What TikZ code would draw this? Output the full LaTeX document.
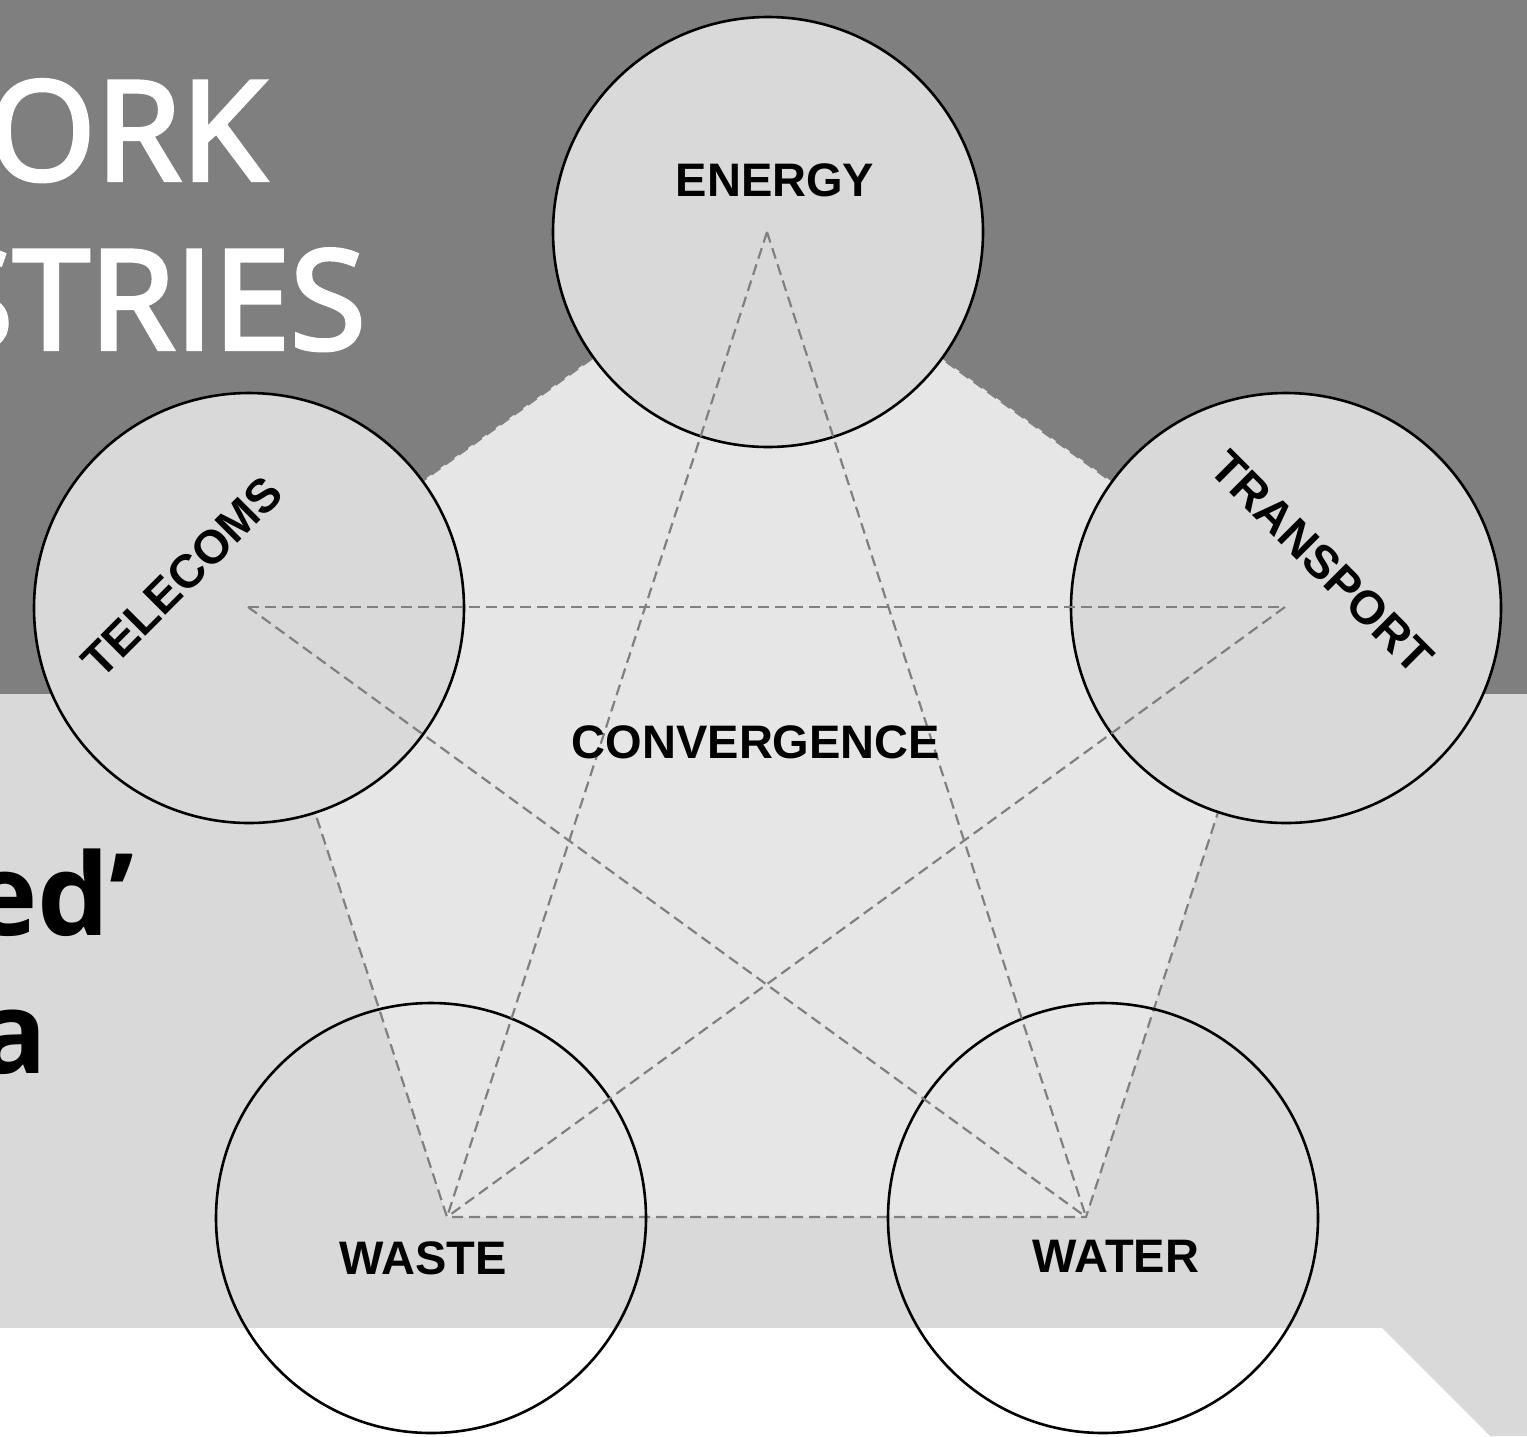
\documentclass[tikz,border=0pt]{standalone}
\usepackage{fontspec}
\setmainfont{Liberation Sans}
\newfontfamily\titlefont{Open Sans}[BoldFont={Open Sans}, BoldFeatures={FakeBold=3}]
\newfontfamily\bodyfont{Open Sans}
\definecolor{darkbg}{HTML}{7F7F7F}
\definecolor{lightbg}{HTML}{D9D9D9}
\definecolor{pentfill}{HTML}{E6E6E6}
\definecolor{dashgray}{HTML}{808080}
\tikzset{
  bigcircle/.style={circle, minimum size=430pt, inner sep=0pt, line width=2.6pt, draw=black},
  topcircle/.style={bigcircle, fill=lightbg},
  linkline/.style={draw=dashgray, line width=2.2pt, dash pattern=on 11pt off 6pt},
  sector/.style={font=\fontsize{47}{50}\selectfont\bfseries, text=black, inner sep=0pt},
  titletext/.style={font=\titlefont\fontsize{138}{150}\selectfont\bfseries, text=white, inner sep=0pt},
  bodytext/.style={font=\bodyfont\fontsize{114}{120}\selectfont\bfseries, text=black, inner sep=0pt}
}
\begin{document}
\begin{tikzpicture}[x=1pt,y=-1pt]
\useasboundingbox (0,0) rectangle (1527,1436);
\begin{scope}
\clip (0,0) rectangle (1527,1436);
% backgrounds
\fill[darkbg] (0,0) rectangle (1527,694);
\fill[lightbg] (0,694) -- (1527,694) -- (1527,1436) -- (1490,1436) -- (1382,1328) -- (0,1328) -- cycle;
\fill[white] (0,1328) -- (1382,1328) -- (1490,1436) -- (0,1436) -- cycle;
% partial texts
\node[titletext, anchor=base east] (title1) at (266,180) {ORK};
\node[titletext, anchor=base east] (title2) at (366,349) {STRIES};
\node[bodytext, anchor=base west] (body1) at (-30,935) {ed’};
\node[bodytext, anchor=base west] (body2) at (-22,1073) {a};
\end{scope}
% pentagon vertices
\coordinate (vE) at (767,232);
\coordinate (vT) at (248,607);
\coordinate (vR) at (1285,607);
\coordinate (vWa) at (447,1217);
\coordinate (vWt) at (1086,1217);
% pentagon
\fill[pentfill] (vE) -- (vR) -- (vWt) -- (vWa) -- (vT) -- cycle;
\draw[linkline] (vE) -- (vR) -- (vWt) -- (vWa) -- (vT) -- cycle;
% circles
\node[bigcircle] (waste) at (431,1218) {};
\node[bigcircle] (water) at (1103,1218) {};
\node[topcircle] (energy) at (768,232) {};
\node[topcircle] (telecoms) at (249,608) {};
\node[topcircle] (transport) at (1286,608) {};
% star lines
\draw[linkline] (vE) -- (vWa);
\draw[linkline] (vE) -- (vWt);
\draw[linkline] (vT) -- (vR);
\draw[linkline] (vT) -- (vWt);
\draw[linkline] (vR) -- (vWa);
% labels
\node[sector] (lenergy) at (775,180) {ENERGY};
\node[sector, rotate=45] (ltelecoms) at (182,577) {TELECOMS};
\node[sector, rotate=-45] (ltransport) at (1322,562) {TRANSPORT};
\node[sector] (lwaste) at (423,1258) {WASTE};
\node[sector] (lwater) at (1116,1256) {WATER};
\node[sector] (lconv) at (756,742) {CONVERGENCE};
\end{tikzpicture}
\end{document}
